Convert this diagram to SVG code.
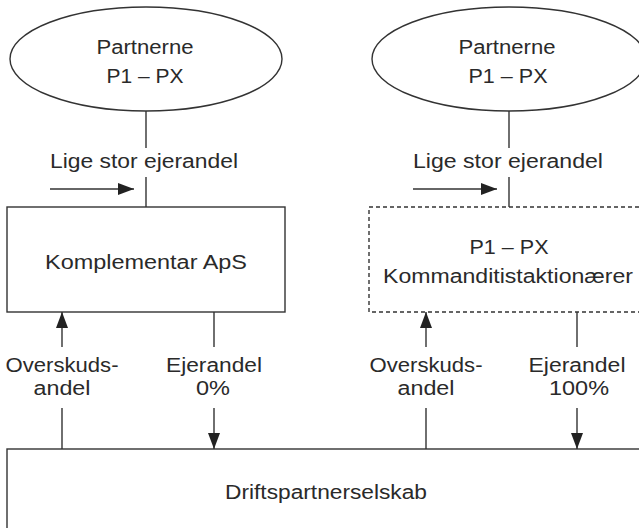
<svg xmlns="http://www.w3.org/2000/svg" width="639" height="528" viewBox="0 0 639 528">
<defs>
<style>
.shape{fill:#fff;stroke:#333;stroke-width:1.4}
.dash{stroke-dasharray:4,3}
.ln{stroke:#333;stroke-width:1.4;fill:none}
.arr{marker-end:url(#ah)}
text{font-family:"Liberation Sans",Arial,sans-serif;font-size:20px;fill:#2a2a2a;text-anchor:middle}
</style>
<marker id="ah" markerUnits="userSpaceOnUse" markerWidth="16" markerHeight="12" refX="16" refY="6" orient="auto" viewBox="0 0 16 12">
<path d="M0,0 L16,6 L0,12 z" fill="#222"/>
</marker>
</defs>
<rect width="639" height="528" fill="#fff"/>
<g id="partnerne-left">
<ellipse class="shape" cx="146" cy="59" rx="136" ry="52"/>
<text x="145" y="54" textLength="97" lengthAdjust="spacingAndGlyphs">Partnerne</text>
<text x="145" y="83" textLength="77" lengthAdjust="spacingAndGlyphs">P1 – PX</text>
</g>
<g id="partnerne-right">
<ellipse class="shape" cx="509" cy="59" rx="137" ry="52"/>
<text x="507" y="54" textLength="97" lengthAdjust="spacingAndGlyphs">Partnerne</text>
<text x="508" y="83" textLength="79" lengthAdjust="spacingAndGlyphs">P1 – PX</text>
</g>
<g id="komplementar">
<rect class="shape" x="7" y="207" width="278" height="105"/>
<text x="146" y="269" textLength="202" lengthAdjust="spacingAndGlyphs">Komplementar ApS</text>
</g>
<g id="kommanditist">
<rect class="shape dash" x="369" y="207" width="280" height="105"/>
<text x="509" y="254" textLength="79" lengthAdjust="spacingAndGlyphs">P1 – PX</text>
<text x="508" y="283" textLength="250" lengthAdjust="spacingAndGlyphs">Kommanditistaktionærer</text>
</g>
<g id="drift">
<rect class="shape" x="7" y="449" width="640" height="90"/>
<text x="326" y="499" textLength="202" lengthAdjust="spacingAndGlyphs">Driftspartnerselskab</text>
</g>
<g id="connectors">
<line class="ln" x1="146" y1="111" x2="146" y2="148"/>
<line class="ln" x1="146" y1="177" x2="146" y2="207"/>
<line class="ln arr" x1="50" y1="189" x2="134" y2="189"/>
<text x="144" y="168" textLength="188" lengthAdjust="spacingAndGlyphs">Lige stor ejerandel</text>
<line class="ln" x1="509" y1="111" x2="509" y2="148"/>
<line class="ln" x1="509" y1="177" x2="509" y2="207"/>
<line class="ln arr" x1="413" y1="189" x2="497" y2="189"/>
<text x="508" y="168" textLength="190" lengthAdjust="spacingAndGlyphs">Lige stor ejerandel</text>

<line class="ln" x1="62" y1="449" x2="62" y2="408"/>
<line class="ln arr" x1="62" y1="347" x2="62" y2="312"/>
<text x="62" y="372" textLength="113" lengthAdjust="spacingAndGlyphs">Overskuds-</text>
<text x="62" y="395" textLength="57" lengthAdjust="spacingAndGlyphs">andel</text>

<line class="ln" x1="214" y1="312" x2="214" y2="347"/>
<line class="ln arr" x1="214" y1="408" x2="214" y2="449"/>
<text x="214" y="372" textLength="96" lengthAdjust="spacingAndGlyphs">Ejerandel</text>
<text x="213" y="395" textLength="34" lengthAdjust="spacingAndGlyphs">0%</text>

<line class="ln" x1="426" y1="449" x2="426" y2="408"/>
<line class="ln arr" x1="426" y1="347" x2="426" y2="312"/>
<text x="426" y="372" textLength="113" lengthAdjust="spacingAndGlyphs">Overskuds-</text>
<text x="426" y="395" textLength="57" lengthAdjust="spacingAndGlyphs">andel</text>

<line class="ln" x1="577" y1="312" x2="577" y2="347"/>
<line class="ln arr" x1="577" y1="408" x2="577" y2="449"/>
<text x="577" y="372" textLength="97" lengthAdjust="spacingAndGlyphs">Ejerandel</text>
<text x="579" y="395" textLength="60" lengthAdjust="spacingAndGlyphs">100%</text>
</g>
</svg>
